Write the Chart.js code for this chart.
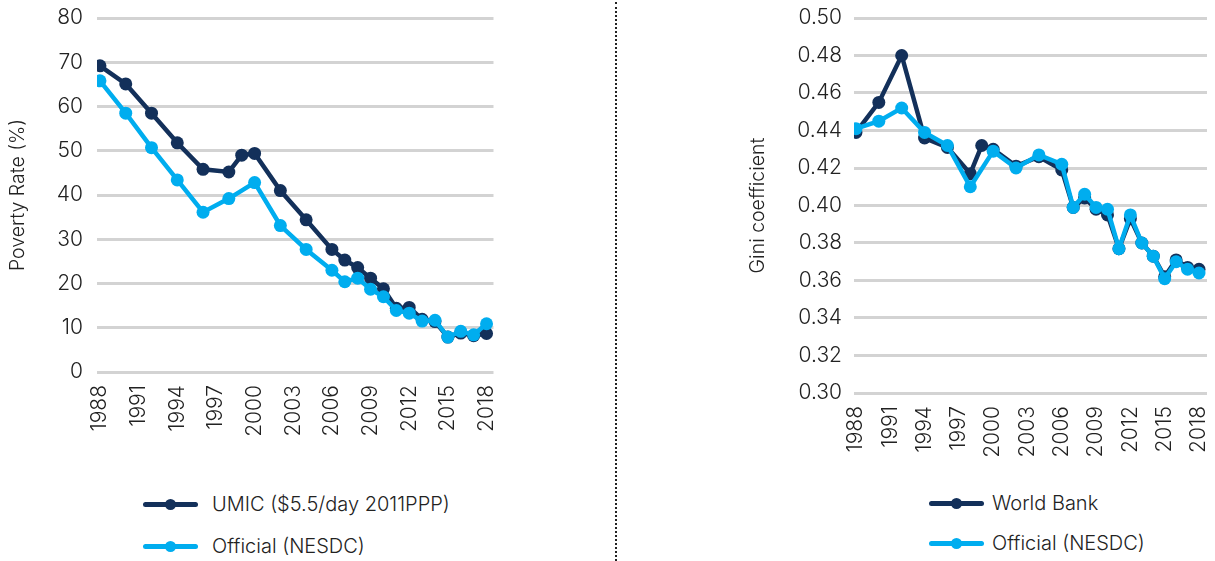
<!DOCTYPE html>
<html>
<head>
<meta charset="utf-8">
<script src="https://cdn.jsdelivr.net/npm/chart.js@4/dist/chart.umd.min.js"></script>
<style>
  body { margin: 0; background: #fff; font-family: Inter, "Open Sans", sans-serif; color: #222; }
  #page { position: relative; width: 1215px; height: 561px; overflow: hidden; }
  .box { position: absolute; }
  .sep { position: absolute; left: 615px; top: 2px; width: 0; height: 559px; border-left: 2px dotted #222; }
  .legend { position: absolute; font-size: 20px; font-weight: 300; }
  .legend .item { position: absolute; white-space: nowrap; display: flex; align-items: center; }
  .legend .key { position: relative; width: 55px; height: 5px; border-radius: 3px; }
  .legend .key span { position: absolute; left: 22px; top: -3px; width: 11px; height: 11px; border-radius: 50%; }
</style>
</head>
<body>
<div id="page">
  <div class="box" style="left:0;top:0;width:500px;height:440px"><canvas id="povChart"></canvas></div>
  <div class="sep"></div>
  <div class="box" style="left:740px;top:0;width:475px;height:460px"><canvas id="giniChart"></canvas></div>

  <div class="legend" id="legLeft" style="left:143px;top:0"></div>
  <div class="legend" id="legRight" style="left:929px;top:0"></div>
</div>

<script>
// colours
var navy = "#13305a";
var cyan = "#00adef";

// poverty rate (%)
var umicYears  = [1988, 1990, 1992, 1994, 1996, 1998, 1999, 2000, 2002, 2004, 2006, 2007, 2008, 2009, 2010, 2011, 2012, 2013, 2014, 2015, 2016, 2017, 2018];
var umicValues = [69.2, 65.1, 58.5, 51.8, 45.8, 45.2, 49.0, 49.4, 41.0, 34.4, 27.7, 25.3, 23.6, 21.2, 18.8, 14.4, 14.6, 11.9, 11.4, 7.9, 8.8, 8.2, 8.7];
var povOffYears  = [1988, 1990, 1992, 1994, 1996, 1998, 2000, 2002, 2004, 2006, 2007, 2008, 2009, 2010, 2011, 2012, 2013, 2014, 2015, 2016, 2017, 2018];
var povOffValues = [65.8, 58.5, 50.7, 43.4, 36.1, 39.2, 42.8, 33.1, 27.7, 23.0, 20.4, 21.2, 18.7, 17.0, 13.9, 13.3, 11.5, 11.7, 7.9, 9.2, 8.4, 10.9];

// gini coefficient
var wbYears  = [1988, 1990, 1992, 1994, 1996, 1998, 1999, 2000, 2002, 2004, 2006, 2007, 2008, 2009, 2010, 2011, 2012, 2013, 2014, 2015, 2016, 2017, 2018];
var wbValues = [0.439, 0.455, 0.480, 0.436, 0.431, 0.417, 0.432, 0.430, 0.421, 0.426, 0.419, 0.399, 0.404, 0.398, 0.395, 0.377, 0.393, 0.380, 0.373, 0.362, 0.371, 0.367, 0.366];
var giniOffYears  = [1988, 1990, 1992, 1994, 1996, 1998, 2000, 2002, 2004, 2006, 2007, 2008, 2009, 2010, 2011, 2012, 2013, 2014, 2015, 2016, 2017, 2018];
var giniOffValues = [0.441, 0.445, 0.452, 0.439, 0.432, 0.410, 0.429, 0.420, 0.427, 0.422, 0.399, 0.406, 0.399, 0.398, 0.377, 0.395, 0.380, 0.373, 0.361, 0.370, 0.366, 0.364];

var yearTicks = [1988, 1991, 1994, 1997, 2000, 2003, 2006, 2009, 2012, 2015, 2018];

var fontFam = "Inter, 'Open Sans', sans-serif";

function toPoints(xs, ys) {
    var pts = [];
    for (var i = 0; i < xs.length; i++) pts.push({ x: xs[i], y: ys[i] });
    return pts;
}

function series(label, xs, ys, color, order) {
    return {
        label: label, data: toPoints(xs, ys), order: order,
        borderColor: color, backgroundColor: color, borderWidth: 4.5,
        pointRadius: 6.5, pointBorderWidth: 0, pointBackgroundColor: color,
        tension: 0, fill: false
    };
}

function makeChart(id, datasets, opts) {
    return new Chart(document.getElementById(id), {
        type: "line",
        data: { datasets: datasets },
        options: {
            responsive: true, maintainAspectRatio: false, animation: false,
            layout: { padding: { top: 18, right: opts.padRight, bottom: 0, left: 0 } },
            plugins: { legend: { display: false }, tooltip: { enabled: false } },
            scales: {
                x: {
                    type: "linear", min: opts.xMin, max: opts.xMax,
                    grid: { display: false, drawTicks: false },
                    border: { display: false },
                    afterBuildTicks: function(s) { s.ticks = yearTicks.map(function(v) { return { value: v }; }); },
                    afterFit: function(s) { s.height = opts.xHeight; s.paddingLeft = 0; s.paddingRight = 0; },
                    ticks: {
                        minRotation: 90, maxRotation: 90, padding: 13, color: "#222",
                        font: { family: fontFam, size: 21, weight: 300 },
                        callback: function(v) { return String(v); }
                    }
                },
                y: {
                    min: opts.yMin, max: opts.yMax,
                    grid: { color: "#d3d3d3", lineWidth: 3, drawTicks: false },
                    border: { display: false },
                    afterFit: function(s) { s.width = opts.yWidth; s.paddingTop = 0; s.paddingBottom = 0; },
                    ticks: {
                        stepSize: opts.yStep, padding: opts.yPad, color: "#222",
                        font: { family: fontFam, size: 21, weight: 300 },
                        callback: function(v) { return opts.fmt(v); }
                    },
                    title: {
                        display: true, text: opts.yTitle, color: "#222", padding: { top: 6, bottom: 0 },
                        font: { family: fontFam, size: 19.5, weight: 300 }
                    }
                }
            }
        }
    });
}

makeChart("povChart", [
    series("UMIC ($5.5/day 2011PPP)", umicYears, umicValues, navy, 1),
    series("Official (NESDC)", povOffYears, povOffValues, cyan, 0)
], {
    xMin: 1987.77, xMax: 2018.54, yMin: 0, yMax: 80, yStep: 10,
    yWidth: 97, yPad: 14, padRight: 5, xHeight: 68,
    yTitle: "Poverty Rate (%)",
    fmt: function(v) { return String(Math.round(v)); }
});

makeChart("giniChart", [
    series("World Bank", wbYears, wbValues, navy, 1),
    series("Official (NESDC)", giniOffYears, giniOffValues, cyan, 0)
], {
    xMin: 1987.83, xMax: 2018.7, yMin: 0.30, yMax: 0.50, yStep: 0.02,
    yWidth: 114, yPad: 12, padRight: 8, xHeight: 67,
    yTitle: "Gini coefficient",
    fmt: function(v) { return v.toFixed(2); }
});

// legends: one entry per row, line key with a dot
function buildLegend(id, entries, rowTops, gap) {
    var el = document.getElementById(id);
    for (var i = 0; i < entries.length; i++) {
        var item = document.createElement("div");
        item.className = "item";
        item.style.top = rowTops[i] + "px";
        item.innerHTML = '<div class="key" style="margin-right:' + gap + 'px;background:' + entries[i][1] +
            '"><span style="background:' + entries[i][1] + '"></span></div>' + entries[i][0];
        el.appendChild(item);
    }
}
buildLegend("legLeft", [["UMIC ($5.5/day 2011PPP)", navy], ["Official (NESDC)", cyan]], [492, 534], 14);
buildLegend("legRight", [["World Bank", navy], ["Official (NESDC)", cyan]], [491, 531], 8);
</script>
</body>
</html>
